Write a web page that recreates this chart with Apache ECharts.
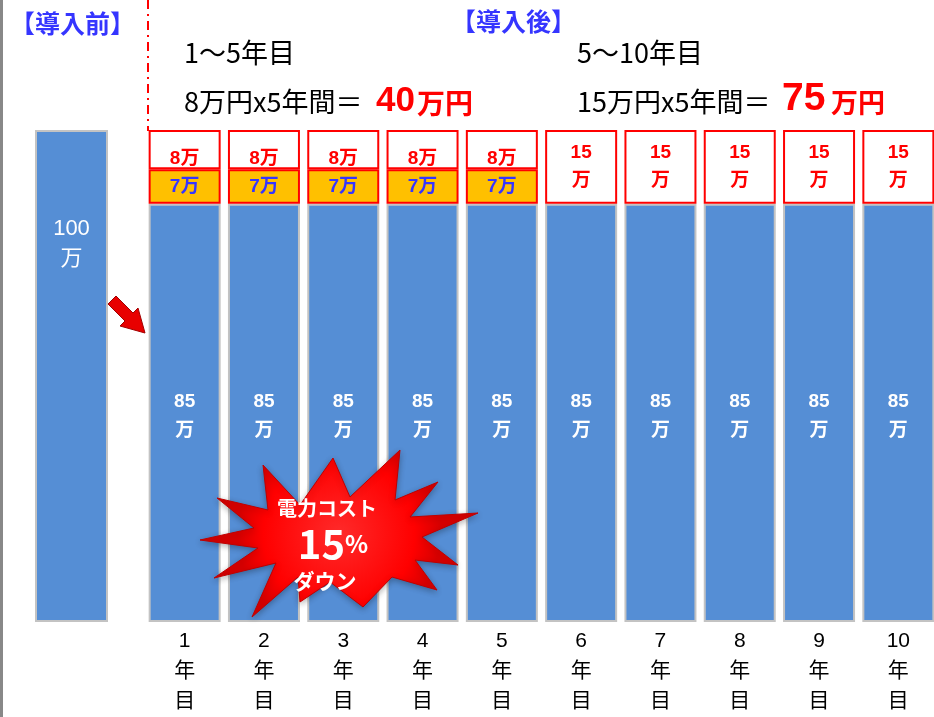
<!DOCTYPE html>
<html><head><meta charset="utf-8">
<script src="https://cdn.jsdelivr.net/npm/echarts@6/dist/echarts.min.js"></script>
<style>html,body{margin:0;padding:0;background:#fff}#c{width:934px;height:717px}</style>
</head><body><div id="c"></div>
<script>
// ---- data ----
const beforeCategory = ['導入前'];
const beforeCost = [100];
const years = ['1','2','3','4','5','6','7','8','9','10'];
const baseCost = [85,85,85,85,85,85,85,85,85,85];
const part7 = [7,7,7,7,7,'-','-','-','-','-'];
const part8 = [8,8,8,8,8,'-','-','-','-','-'];
const part15 = ['-','-','-','-','-',15,15,15,15,15];

const FONT = "'Liberation Sans','Noto Sans CJK JP',sans-serif";
const JP = "'Noto Sans CJK JP',sans-serif";
const BLUE = '#558ed5';
const chart = echarts.init(document.getElementById('c'));

const starPts = [[263,465],[300,505],[333,458],[350,497],[400,450],[395,500],[438,482],[410,517],[478,513],[422,537],[458,565],[415,560],[437,590],[392,577],[363,607],[330,582],[300,602],[298,577],[252,617],[276,563],[214,578],[258,548],[200,540],[254,528],[217,498],[268,510]];

function txt(x, y, text, font, fill, align, z){
  return {type:'text', z:z||100, x:x, y:y, style:{text:text, font:font, fill:fill, align:align||'left', verticalAlign:'middle'}};
}

chart.setOption({
  animation:false,
  grid:[
    {left:32, width:79, top:130, bottom:95, outerBoundsMode:'none', containLabel:false},
    {left:145, width:793, top:130, bottom:95, outerBoundsMode:'none', containLabel:false}
  ],
  xAxis:[
    {gridIndex:0, type:'category', data:beforeCategory, axisLine:{show:false}, axisTick:{show:false}, axisLabel:{show:false}},
    {gridIndex:1, type:'category', data:years, axisLine:{show:false}, axisTick:{show:false},
     axisLabel:{color:'#000', fontSize:21, lineHeight:30, fontFamily:FONT, margin:4,
       formatter:v=>v+'\n年\n目'}}
  ],
  yAxis:[
    {gridIndex:0, type:'value', min:0, max:100, show:false},
    {gridIndex:1, type:'value', min:0, max:100, show:false}
  ],
  series:[
    {type:'bar', xAxisIndex:0, yAxisIndex:0, data:beforeCost, barWidth:73,
     itemStyle:{color:BLUE, borderColor:'#c3c3c3', borderWidth:2},
     label:{show:true, position:'insideTop', distance:84, color:'#fff', fontSize:22, lineHeight:30, fontFamily:FONT,
       formatter:p=>p.value+'\n万'}},
    {type:'bar', xAxisIndex:1, yAxisIndex:1, stack:'a', data:baseCost, barWidth:72,
     itemStyle:{color:BLUE, borderColor:'#c3c3c3', borderWidth:2},
     label:{show:true, position:'inside', offset:[0,3], color:'#fff', fontSize:19, fontWeight:'bold', lineHeight:29, fontFamily:FONT,
       formatter:p=>p.value+'\n万'}},
    {type:'bar', xAxisIndex:1, yAxisIndex:1, stack:'a', data:part7, barWidth:72,
     itemStyle:{color:'#ffc000', borderColor:'#ff0000', borderWidth:2},
     label:{show:true, position:'inside', color:'#3535ff', fontSize:19, fontWeight:'bold', fontFamily:FONT,
       formatter:p=>p.value+'万'}},
    {type:'bar', xAxisIndex:1, yAxisIndex:1, stack:'a', data:part8, barWidth:72,
     itemStyle:{color:'#fff', borderColor:'#ff0000', borderWidth:2},
     label:{show:true, position:'insideBottom', distance:1, color:'#ff0000', fontSize:19, fontWeight:'bold', fontFamily:FONT,
       formatter:p=>p.value+'万'}},
    {type:'bar', xAxisIndex:1, yAxisIndex:1, stack:'a', data:part15, barWidth:72,
     itemStyle:{color:'#fff', borderColor:'#ff0000', borderWidth:2},
     label:{show:true, position:'inside', color:'#ff0000', fontSize:19, fontWeight:'bold', lineHeight:28, fontFamily:FONT,
       formatter:p=>p.value+'\n万'}}
  ],
  graphic:[
    {type:'rect', z:100, shape:{x:0,y:0,width:3,height:717}, style:{fill:'#888'}},
    {type:'line', z:100, shape:{x1:148,y1:0,x2:148,y2:131}, style:{stroke:'#ff0000', lineWidth:2, lineDash:[9,5,2,5]}},
    txt(10, 23, '【導入前】', "bold 25px "+JP, '#3535ff'),
    txt(451, 21, '【導入後】', "bold 25px "+JP, '#3535ff'),
    txt(184, 53, '1〜5年目', "27px "+JP, '#000'),
    txt(577, 53, '5〜10年目', "27px "+JP, '#000'),
    txt(184, 102, '8万円x5年間＝', "27px "+JP, '#000'),
    txt(376, 101, '40', "bold 35px 'Liberation Sans'", '#ff0000'),
    txt(417, 103, '万円', "bold 28px "+JP, '#ff0000'),
    txt(577, 102, '15万円x5年間＝', "27px "+JP, '#000'),
    txt(782, 99, '75', "bold 39px 'Liberation Sans'", '#ff0000'),
    txt(831, 103, '万円', "bold 27px "+JP, '#ff0000'),
    {type:'polygon', z:100, shape:{points:[[116,296],[133,313],[138,308],[145,333],[120,326],[125,321],[108,304]]},
     style:{fill:'#e80000', stroke:'#a00000', lineWidth:1}},
    {type:'polygon', z:100, shape:{points:starPts},
     style:{fill:{type:'radial', x:0.5, y:0.5, r:0.6, colorStops:[{offset:0,color:'#ff2a2a'},{offset:0.75,color:'#ff0000'},{offset:1,color:'#d80000'}]},
            stroke:'#c00000', lineWidth:1, shadowColor:'rgba(0,0,0,0.3)', shadowBlur:6, shadowOffsetY:2}},
    txt(327, 508, '電力コスト', "bold 20px "+JP, '#fff', 'center', 101),
    {type:'text', z:101, x:333, y:544, style:{text:'{n|15}{p|%}', align:'center', verticalAlign:'middle',
      rich:{n:{fill:'#fff', fontSize:40, fontWeight:'bold', fontFamily:JP}, p:{fill:'#fff', fontSize:24, fontWeight:'bold', fontFamily:JP}}}},
    txt(325, 581, 'ダウン', "bold 21px "+JP, '#fff', 'center', 101)
  ]
});
</script></body></html>
